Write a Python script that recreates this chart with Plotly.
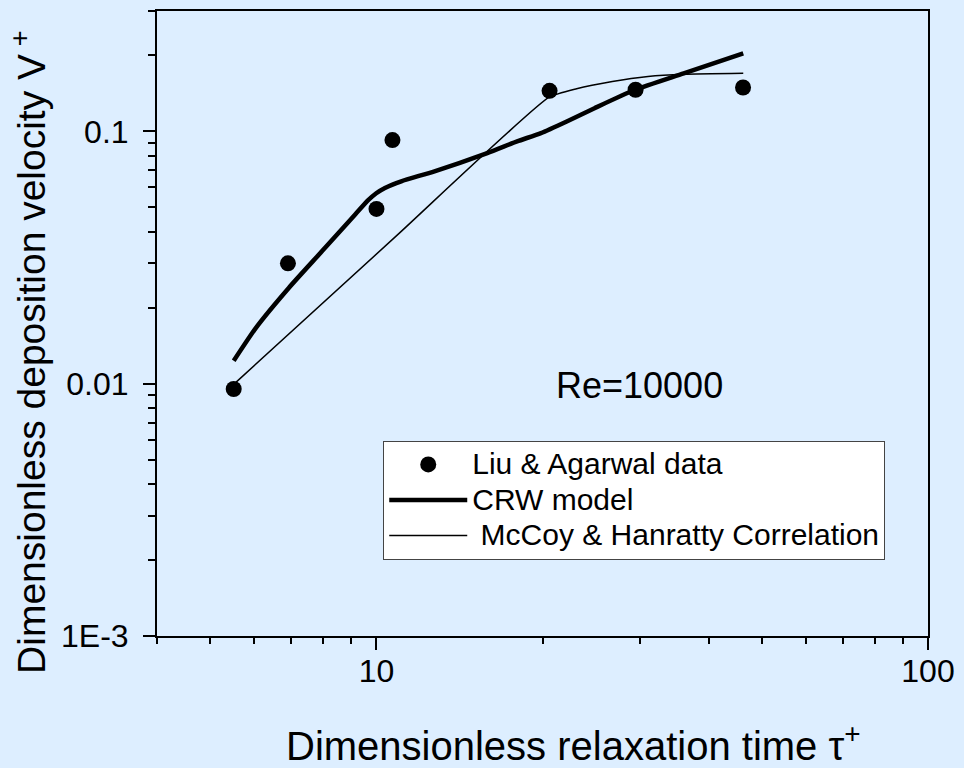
import plotly.graph_objects as go
import math

# Liu & Agarwal experimental data
data_tau = [5.51, 6.91, 10.0, 10.69, 20.6, 29.5, 46.2]
data_v = [0.00953, 0.0300, 0.0493, 0.0924, 0.1448, 0.1462, 0.1493]

# CRW model curve
crw_tau = [5.51, 6.05, 6.94, 7.97, 9.15, 9.66, 9.99, 10.36, 11.09, 12.74, 15.88, 17.99, 19.87, 22.13, 24.85, 29.44, 36.07, 46.24]
crw_v = [0.01233, 0.01669, 0.02402, 0.03354, 0.04686, 0.05337, 0.05687, 0.05969, 0.06343, 0.06949, 0.08208, 0.09129, 0.09846, 0.1095, 0.1236, 0.1462, 0.1699, 0.2039]

# McCoy & Hanratty correlation
mh_tau = [5.56, 10.94, 20.54, 23.06, 26.77, 31.07, 36.07, 46.24]
mh_v = [0.01012, 0.03905, 0.1363, 0.1475, 0.1576, 0.1650, 0.1684, 0.1699]

y_tickvals = [0.001, 0.01, 0.1]
y_ticktext = ["1E-3", "0.01", "0.1"]
x_tickvals = [10, 100]
x_ticktext = ["10", "100"]

series_names = ["Liu & Agarwal data", "CRW model", " McCoy & Hanratty Correlation"]

FONT = "Liberation Sans, Arial, sans-serif"
BG = "#DDEEFF"


def leg(name):
    return '<span style="font-size:30px">' + name + '</span>'


fig = go.Figure()
fig.add_trace(go.Scatter(x=data_tau, y=data_v, mode="markers", name=leg(series_names[0]),
                         marker=dict(symbol="circle", size=16, color="black")))
fig.add_trace(go.Scatter(x=crw_tau, y=crw_v, mode="lines", name=leg(series_names[1]),
                         line=dict(color="black", width=4.5, shape="spline", smoothing=0.6)))
fig.add_trace(go.Scatter(x=mh_tau, y=mh_v, mode="lines", name=leg(series_names[2]),
                         line=dict(color="black", width=1.5, shape="spline", smoothing=0.5)))

L, R, T, B = 157, 30, 9, 132
W, H = 964, 768
pw = W - L - R
ph = H - T - B

fig.update_layout(
    width=W, height=H,
    margin=dict(l=L, r=R, t=T, b=B, pad=0),
    paper_bgcolor=BG, plot_bgcolor=BG,
    font=dict(family=FONT, size=32, color="black"),
    showlegend=True,
    legend=dict(x=(385 - L) / pw, y=(H - B - 440) / ph, xanchor="left", yanchor="top",
                bgcolor="white", bordercolor="#444", borderwidth=1,
                font=dict(family=FONT, size=25, color="black"),
                itemwidth=78, tracegroupgap=0),
    xaxis=dict(type="log", range=[math.log10(4), 2],
               tickvals=x_tickvals, ticktext=x_ticktext,
               ticks="outside", ticklen=12, tickwidth=2, tickcolor="black",
               ticklabelstandoff=-6, ticklabeloverflow="allow",
               minor=dict(ticks="outside", ticklen=6, tickwidth=2, tickcolor="black",
                          dtick="D1", showgrid=False),
               showline=True, linecolor="black", linewidth=2, mirror=True,
               showgrid=False, zeroline=False,
               tickfont=dict(family=FONT, size=32)),
    yaxis=dict(type="log", range=[-3, math.log10(0.3)],
               tickvals=y_tickvals, ticktext=y_ticktext,
               ticks="outside", ticklen=12, tickwidth=2, tickcolor="black",
               ticklabelstandoff=8, ticklabeloverflow="allow",
               minor=dict(ticks="outside", ticklen=7, tickwidth=2, tickcolor="black",
                          dtick="D1", showgrid=False),
               showline=True, linecolor="black", linewidth=2, mirror=True,
               showgrid=False, zeroline=False,
               tickfont=dict(family=FONT, size=32)),
)

fig.add_annotation(text="Re=10000", xref="paper", yref="paper",
                   x=(643 - L) / pw, y=(H - B - 385) / ph, showarrow=False,
                   xanchor="center", yanchor="middle",
                   font=dict(family=FONT, size=36, color="black"))
fig.add_annotation(text="Dimensionless relaxation time τ<sup>+</sup>", xref="paper", yref="paper",
                   x=(577 - L) / pw, y=(H - B - 743) / ph, showarrow=False,
                   xanchor="center", yanchor="middle",
                   font=dict(family=FONT, size=40, color="black"))
fig.add_annotation(text="Dimensionless deposition velocity V<sup> +</sup>", xref="paper", yref="paper",
                   x=(28 - L) / pw, y=(H - B - 351) / ph, showarrow=False, textangle=-90,
                   xanchor="center", yanchor="middle",
                   font=dict(family=FONT, size=39, color="black"))

fig.write_html("out.html", config={"displayModeBar": False},
               post_script="document.body.style.margin='0';document.body.style.overflow='hidden';")
